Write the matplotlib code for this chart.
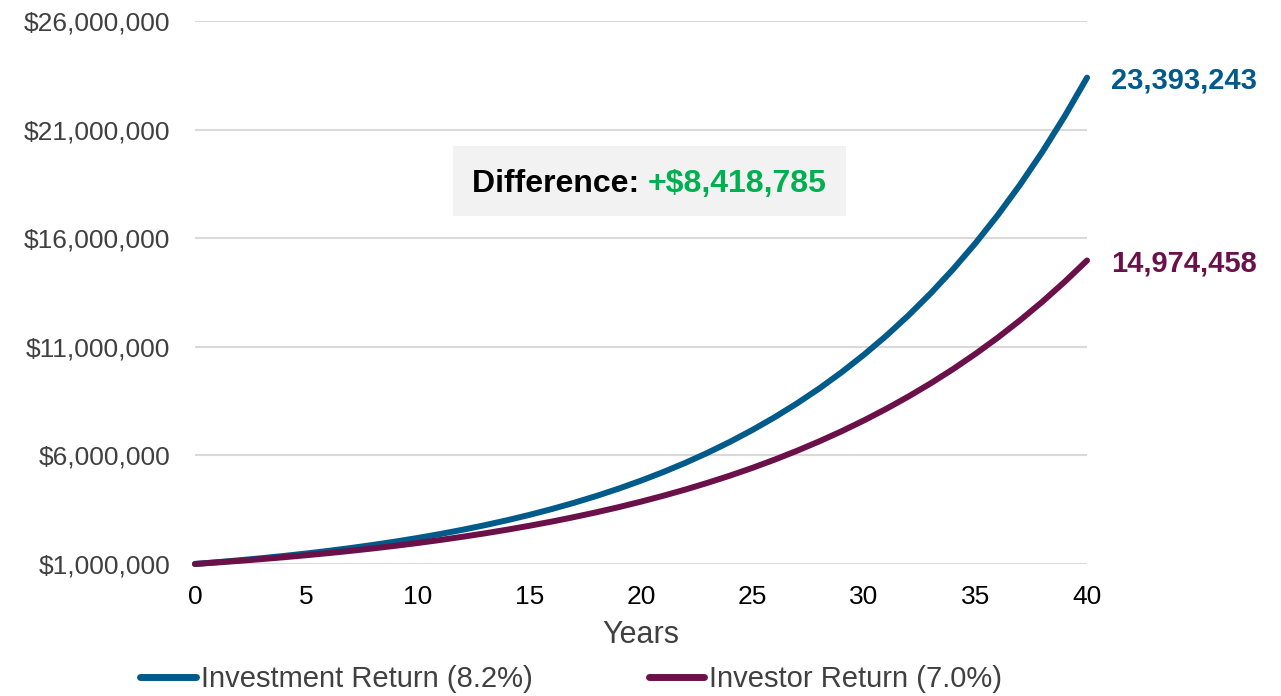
import matplotlib
matplotlib.use('Agg')
import matplotlib.pyplot as plt
from matplotlib.patches import Rectangle
from matplotlib.ticker import FuncFormatter

plt.rcParams['font.family'] = ['Liberation Sans', 'DejaVu Sans']

# portfolio value, millions of dollars, year 0..40
years = list(range(41))
investment = [1.000, 1.082, 1.171, 1.267, 1.371, 1.483, 1.605, 1.736, 1.879, 2.033,
              2.199, 2.380, 2.575, 2.786, 3.014, 3.261, 3.529, 3.818, 4.131, 4.470,
              4.837, 5.233, 5.662, 6.127, 6.629, 7.173, 7.761, 8.397, 9.086, 9.831,
              10.637, 11.509, 12.453, 13.474, 14.579, 15.774, 17.068, 18.468, 19.982, 21.620,
              23.393]
investor = [1.000, 1.070, 1.145, 1.225, 1.311, 1.403, 1.501, 1.606, 1.718, 1.838,
            1.967, 2.105, 2.252, 2.410, 2.579, 2.759, 2.952, 3.159, 3.380, 3.617,
            3.870, 4.141, 4.430, 4.741, 5.072, 5.427, 5.807, 6.214, 6.649, 7.114,
            7.612, 8.145, 8.715, 9.325, 9.978, 10.677, 11.424, 12.224, 13.079, 13.995,
            14.974]
labels = ['Investment Return (8.2%)', 'Investor Return (7.0%)']
end_values = [23393243, 14974458]
difference = 8418785
yticks = [1e6, 6e6, 11e6, 16e6, 21e6, 26e6]
xticks = [0, 5, 10, 15, 20, 25, 30, 35, 40]

blue = '#005A8A'
purple = '#6B1049'
green = '#00B050'

fig = plt.figure(figsize=(12.81, 6.96), dpi=100)
ax = fig.add_axes([0.1522, 0.1897, 0.6964, 0.7801])

series = [investment, investor]
colors = [blue, purple]
for vals, col, lab, endv in zip(series, colors, labels, end_values):
    ys = [v * 1e6 for v in vals]
    ax.plot(years, ys, color=col, lw=4.3, solid_capstyle='round', label=lab,
            zorder=3, clip_on=False)
    ax.annotate(f'{endv:,}', xy=(years[-1], ys[-1]), xytext=(17, -2),
                textcoords='offset points', va='center', ha='left',
                fontsize=21, fontweight='bold', color=col)

ax.set_xlim(0, 40)
ax.set_ylim(1e6, 26e6)
ax.set_yticks(yticks)
ax.set_xticks(xticks)
ax.yaxis.set_major_formatter(FuncFormatter(lambda v, p: f'${v:,.0f}'))
ax.tick_params(axis='y', length=0, pad=18, labelsize=19, labelcolor='#404040')
ax.tick_params(axis='x', length=0, pad=15, labelsize=19, labelcolor='#000000')
ax.grid(axis='y', color='#D9D9D9', lw=1.5)
ax.set_axisbelow(True)
for s in ax.spines.values():
    s.set_visible(False)
ax.set_xlabel('Years', fontsize=22, color='#404040', labelpad=8)

# difference callout
ax.add_patch(Rectangle((0.2892, 0.6409), 0.4406, 0.1289, transform=ax.transAxes,
                       facecolor='#F2F2F2', edgecolor='none', zorder=2))
ax.text(20.31, 18.5e6, 'Difference: ', ha='right', va='center', fontsize=23,
        fontweight='bold', color='black', zorder=4)
ax.text(20.31, 18.5e6, f'+${difference:,}', ha='left', va='center', fontsize=23,
        fontweight='bold', color=green, zorder=4)

leg = fig.legend(loc='center', bbox_to_anchor=(0.446, 0.0244), ncol=2, frameon=False,
                 fontsize=21, handlelength=1.9, handletextpad=0.17, columnspacing=4.0,
                 labelcolor='#404040', borderaxespad=0)
for h in leg.get_lines():
    h.set_linewidth(5)
    h.set_solid_capstyle('round')

fig.savefig('out.png', dpi=100)
